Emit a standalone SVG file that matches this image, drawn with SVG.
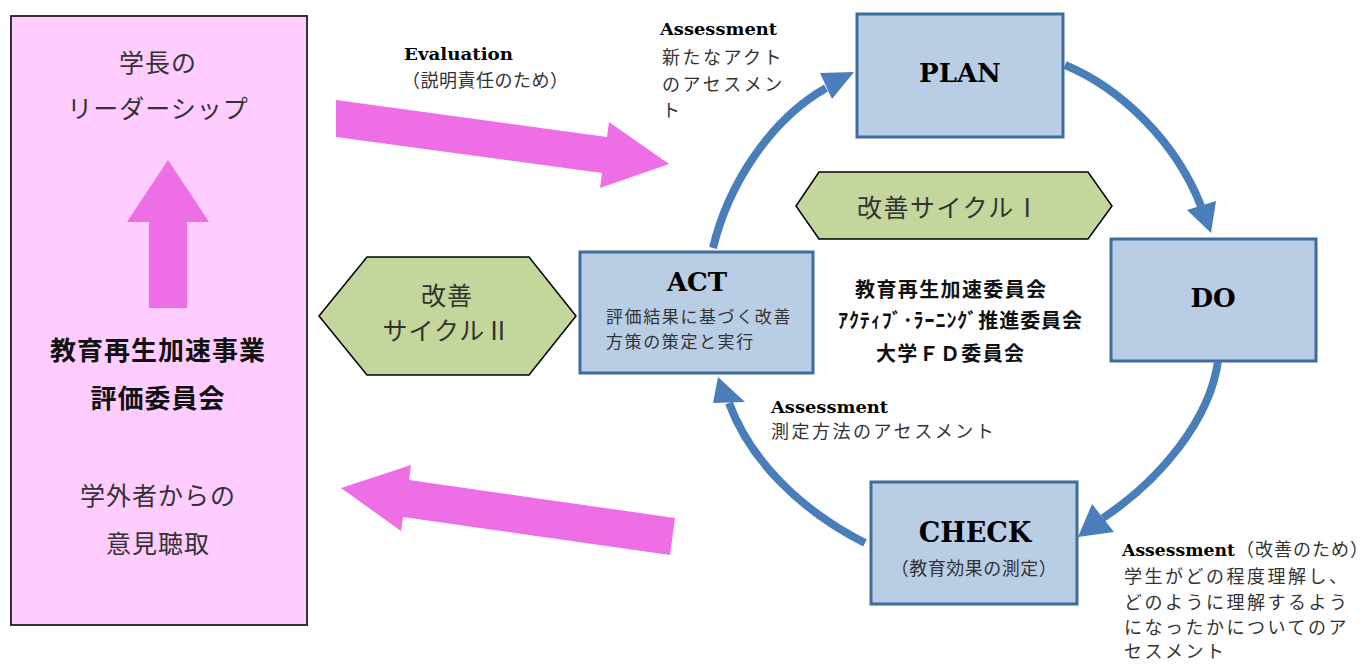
<svg xmlns="http://www.w3.org/2000/svg" width="1371" height="664" viewBox="0 0 1371 664">
<style>
.jp{font-family:"Noto Sans CJK JP","Noto Sans",sans-serif;fill:#333;font-size:18px;letter-spacing:2.5px}
.jb{font-family:"Noto Sans CJK JP","Noto Sans",sans-serif;fill:#111;font-weight:bold}
.lat{font-family:"DejaVu Serif","Liberation Serif",serif;font-weight:bold;fill:#000}
.box{fill:#B9CDE5;stroke:#3F6C9E;stroke-width:3}
.hex{fill:#C3D69B;stroke:#000;stroke-width:1.5}
.pink{fill:#EE6EE6}
.arc{fill:none;stroke:#4A7EBB;stroke-width:8}
.head{fill:#4A7EBB}
</style>

<g id="left-panel">
<rect x="11" y="16" width="296" height="609" fill="#FFCCFF" stroke="#333" stroke-width="2"/>
<text class="jp" x="158" y="72" text-anchor="middle" style="font-size:25px;letter-spacing:1px">学長の</text>
<text class="jp" x="158" y="118" text-anchor="middle" style="font-size:25px;letter-spacing:1px">リーダーシップ</text>
<polygon class="pink" points="168,160 209,222 187,222 187,308 149,308 149,222 127,222"/>
<text class="jb" x="158" y="360" text-anchor="middle" font-size="26" letter-spacing="1">教育再生加速事業</text>
<text class="jb" x="158" y="408" text-anchor="middle" font-size="26" letter-spacing="1">評価委員会</text>
<text class="jp" x="158" y="505" text-anchor="middle" style="font-size:25px;letter-spacing:1px">学外者からの</text>
<text class="jp" x="158" y="553" text-anchor="middle" style="font-size:25px;letter-spacing:1px">意見聴取</text>
</g>

<g id="evaluation-arrow">
<polygon class="pink" points="336,100 607,137 609,122 669,164 600,188 602,173 336,137"/>
<text class="lat" x="404" y="60" font-size="17" textLength="109" lengthAdjust="spacingAndGlyphs">Evaluation</text>
<text class="jp" x="402" y="87" style="letter-spacing:0.5px">（説明責任のため）</text>
</g>

<g id="feedback-arrow">
<polygon class="pink" points="341,488 411,465 409,480 675,518 670,555 403,517 401,531"/>
</g>

<g id="cycle2">
<polygon class="hex" points="319,316 367,257 529,257 576,316 529,375 367,375"/>
<text class="jp" x="447" y="305" text-anchor="middle" style="font-size:25px;letter-spacing:1px">改善</text>
<text class="jp" x="447" y="340" text-anchor="middle" style="font-size:25px;letter-spacing:1px">サイクルⅡ</text>
</g>

<g id="act">
<rect class="box" x="580" y="252" width="233" height="121"/>
<text class="lat" x="697" y="291" text-anchor="middle" font-size="26">ACT</text>
<text class="jp" x="606" y="323" style="font-size:17px;letter-spacing:1.6px">評価結果に基づく改善</text>
<text class="jp" x="606" y="348" style="font-size:17px;letter-spacing:1.6px">方策の策定と実行</text>
</g>

<g id="plan">
<rect class="box" x="857" y="14" width="206" height="123"/>
<text class="lat" x="960" y="82" text-anchor="middle" font-size="26">PLAN</text>
</g>

<g id="cycle1">
<polygon class="hex" points="796,206 819,172 1088,172 1112,206 1088,239 819,239"/>
<text class="jp" x="857" y="217" style="font-size:25px;letter-spacing:1.5px">改善サイクルⅠ</text>
</g>

<g id="do">
<rect class="box" x="1111" y="239" width="205" height="122"/>
<text class="lat" x="1213" y="307" text-anchor="middle" font-size="26">DO</text>
</g>

<g id="check">
<rect class="box" x="871" y="482" width="206" height="122"/>
<text class="lat" x="975" y="542" text-anchor="middle" font-size="27">CHECK</text>
<text class="jp" x="974" y="575" text-anchor="middle" style="letter-spacing:0.5px">（教育効果の測定）</text>
</g>

<g id="committees">
<text class="jb" x="855" y="297" font-size="20" textLength="191" lengthAdjust="spacing">教育再生加速委員会</text>
<text class="jb" x="838" y="328" font-size="20" textLength="244" lengthAdjust="spacing">ｱｸﾃｨﾌﾞ･ﾗｰﾆﾝｸﾞ推進委員会</text>
<text class="jb" x="876" y="361" font-size="20" textLength="148" lengthAdjust="spacing">大学ＦＤ委員会</text>
</g>

<g id="connectors">
<path class="arc" d="M713,248 C728,185 770,120 826,88"/>
<polygon class="head" points="854,72 820,73 832,99"/>
<path class="arc" d="M1065,65 C1120,88 1175,140 1201,206"/>
<polygon class="head" points="1211,233 1187,210 1216,201"/>
<path class="arc" d="M1218,361 C1210,420 1160,480 1103,518"/>
<polygon class="head" points="1078,537 1092,504 1114,532"/>
<path class="arc" d="M865,543 C800,510 750,460 729,403"/>
<polygon class="head" points="718,377 713,403 745,402"/>
</g>

<g id="labels">
<text class="lat" x="660" y="35" font-size="17" textLength="117" lengthAdjust="spacingAndGlyphs">Assessment</text>
<text class="jp" x="662" y="64">新たなアクト</text>
<text class="jp" x="662" y="91">のアセスメン</text>
<text class="jp" x="662" y="117">ト</text>
<text class="lat" x="771" y="413" font-size="17" textLength="117" lengthAdjust="spacingAndGlyphs">Assessment</text>
<text class="jp" x="771" y="438">測定方法のアセスメント</text>
<text class="lat" x="1122" y="556" font-size="17" textLength="113" lengthAdjust="spacingAndGlyphs">Assessment</text>
<text class="jp" x="1236" y="556" style="letter-spacing:1px">（改善のため）</text>
<text class="jp" x="1124" y="583">学生がどの程度理解し、</text>
<text class="jp" x="1124" y="609">どのように理解するよう</text>
<text class="jp" x="1124" y="634">になったかについてのア</text>
<text class="jp" x="1124" y="658">セスメント</text>
</g>
</svg>
